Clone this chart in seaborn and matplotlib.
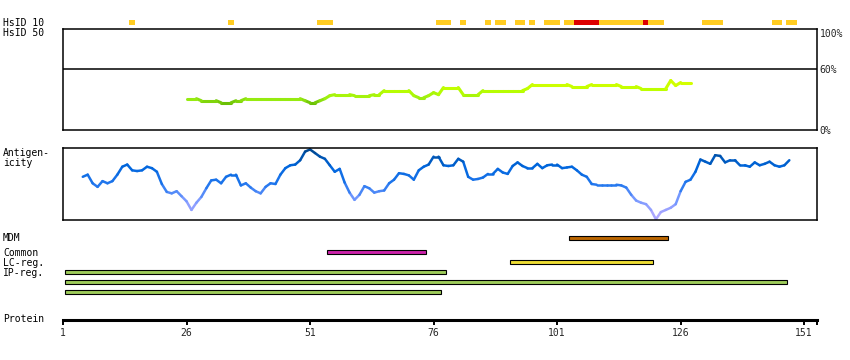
import matplotlib
matplotlib.use("Agg")
import matplotlib.pyplot as plt
from matplotlib.colors import LinearSegmentedColormap
import pandas as pd
import seaborn as sns

sns.set_style("white")
plt.rcParams["font.family"] = ["DejaVu Sans Mono"]

# ---------------- data ----------------
# HsID 10 identity blocks (residue start, end, level)
hs10_start = [15, 35, 53, 77, 82, 87, 89, 93, 96, 99, 103, 105, 110, 119, 120, 131, 145, 148]
hs10_end = [15, 35, 55, 79, 82, 87, 90, 94, 96, 101, 104, 109, 118, 119, 122, 134, 146, 149]
hs10_level = ["mid", "mid", "mid", "mid", "mid", "mid", "mid", "mid", "mid", "mid",
              "mid", "high", "mid", "high", "mid", "mid", "mid", "mid"]

# HsID 50 similarity (%) per residue
hs50_res = list(range(26, 129))
hs50_val = [31, 31, 31, 29, 29, 29, 29, 27, 27, 27, 29, 29,
            31, 31, 31, 31, 31, 31, 31, 31, 31, 31, 31, 31,
            29, 27, 27, 29, 31, 34, 35, 35, 35, 35, 34, 34, 34, 34, 35, 35,
            39, 39, 39, 39, 39, 39, 34, 32, 32, 34, 37, 35,
            42, 42, 42, 42, 35, 35, 35, 35,
            39, 39, 39, 39, 39, 39, 39, 39, 39, 41,
            45, 45, 45, 45, 45, 45, 45, 45, 43, 43, 43, 43,
            45, 45, 45, 45, 45, 45, 43, 43, 43, 43,
            41, 41, 41, 41, 41, 41, 49, 44, 47, 47, 47]

# Antigenicity per residue
ag_res = list(range(5, 149))
ag_val = [0.60, 0.63, 0.51, 0.46, 0.54, 0.51, 0.54, 0.63, 0.74, 0.77,
          0.69, 0.68, 0.69, 0.74, 0.72, 0.67, 0.50, 0.39, 0.37, 0.40,
          0.33, 0.26, 0.14, 0.24, 0.32, 0.44, 0.55, 0.56, 0.51, 0.60,
          0.63, 0.63, 0.48, 0.51, 0.45, 0.40, 0.37, 0.46, 0.51, 0.50,
          0.63, 0.72, 0.76, 0.77, 0.83, 0.95, 0.98, 0.93, 0.88, 0.85,
          0.76, 0.67, 0.71, 0.52, 0.38, 0.28, 0.35, 0.47, 0.44, 0.38,
          0.40, 0.41, 0.51, 0.56, 0.65, 0.64, 0.62, 0.56, 0.69, 0.74,
          0.77, 0.88, 0.88, 0.76, 0.75, 0.76, 0.85, 0.81, 0.60, 0.56,
          0.57, 0.59, 0.64, 0.64, 0.71, 0.66, 0.64, 0.75, 0.80, 0.75,
          0.72, 0.72, 0.78, 0.72, 0.76, 0.77, 0.77, 0.72, 0.73, 0.74,
          0.69, 0.63, 0.60, 0.50, 0.49, 0.49, 0.49, 0.49, 0.49, 0.48,
          0.45, 0.35, 0.27, 0.24, 0.22, 0.14, 0.01, 0.11, 0.14, 0.17,
          0.22, 0.40, 0.53, 0.56, 0.67, 0.84, 0.81, 0.78, 0.90, 0.89,
          0.80, 0.83, 0.83, 0.76, 0.76, 0.74, 0.80, 0.76, 0.78, 0.81,
          0.76, 0.74, 0.76, 0.83]

# feature regions
feat_name = ["MDM", "Common", "LC-reg.", "IP-reg.", "IP-reg.", "IP-reg."]
feat_start = [103, 54, 91, 1, 1, 1]
feat_end = [123, 74, 120, 78, 147, 77]

prot_ticks = [1, 26, 51, 76, 101, 126, 151]
prot_end = 153.6

# ---------------- layout helpers ----------------
W, H = 850, 360
fig = plt.figure(figsize=(W / 100, H / 100), dpi=100)


def px_axes(x0, y0, x1, y1):
    return fig.add_axes([x0 / W, 1 - y1 / H, (x1 - x0) / W, (y1 - y0) / H])


def label(y, s):
    fig.text(3 / W, 1 - y / H, s, ha="left", va="center", fontsize=7, color="black")


def seg_frame(xs, ys):
    rows = []
    for i in range(len(xs) - 1):
        c = (ys[i] + ys[i + 1]) / 2
        rows.append((i, xs[i], ys[i], c))
        rows.append((i, xs[i + 1], ys[i + 1], c))
    return pd.DataFrame(rows, columns=["seg", "x", "y", "c"])


XL = (1, prot_end)

# ---------------- HsID 10 strip ----------------
ax10 = px_axes(63, 20, 817, 25)
lvl_col = {"mid": "#FFCC22", "high": "#DD0000"}
ax10.barh([0.5] * len(hs10_start),
          [e - s + 1.2 for s, e in zip(hs10_start, hs10_end)],
          left=[s - 0.6 for s in hs10_start], height=1.0,
          color=[lvl_col[l] for l in hs10_level], linewidth=0)
ax10.set_xlim(*XL)
ax10.set_ylim(0, 1)
ax10.axis("off")

# ---------------- HsID 50 panel ----------------
ax50 = px_axes(63, 29, 817, 130)
green_cmap = LinearSegmentedColormap.from_list(
    "hs", [(0, "#55AA00"), (0.25, "#99EE11"), (0.6, "#BBFF00"), (1, "#DDFF00")])
sns.lineplot(data=seg_frame(hs50_res, hs50_val), x="x", y="y", hue="c", units="seg",
             estimator=None, sort=False, palette=green_cmap, hue_norm=(25, 50),
             legend=False, linewidth=2.2, solid_capstyle="round", ax=ax50)
ax50.axhline(60, color="black", linewidth=1.1)
ax50.set_xlim(*XL)
ax50.set_ylim(0, 100)
ax50.set_xticks([])
ax50.yaxis.tick_right()
ax50.set_yticks([100, 60, 0])
ax50.set_yticklabels(["100%", "60%", "0%"], fontsize=7)
ax50.get_yticklabels()[0].set_va("top")
ax50.tick_params(axis="y", length=0, pad=2)
ax50.set_xlabel("")
ax50.set_ylabel("")
for sp in ax50.spines.values():
    sp.set_linewidth(1.1)
    sp.set_color("black")

# ---------------- Antigenicity panel ----------------
axag = px_axes(63, 148, 817, 220)
blue_cmap = LinearSegmentedColormap.from_list(
    "ag", [(0, "#BBAAFF"), (0.3, "#7799FF"), (0.5, "#2277EE"), (0.75, "#0066DD"), (1, "#004488")])
sns.lineplot(data=seg_frame(ag_res, ag_val), x="x", y="y", hue="c", units="seg",
             estimator=None, sort=False, palette=blue_cmap, hue_norm=(0, 1),
             legend=False, linewidth=1.8, solid_capstyle="round", ax=axag)
axag.set_xlim(*XL)
axag.set_ylim(0, 1)
axag.set_xticks([])
axag.set_yticks([])
axag.set_xlabel("")
axag.set_ylabel("")
for sp in axag.spines.values():
    sp.set_linewidth(1.1)
    sp.set_color("black")

# ---------------- feature tracks ----------------
axtr = px_axes(63, 230, 817, 300)
row_y = [237.7, 252.3, 262.3, 272.3, 282.3, 292.3]
feat_col = {"MDM": "#BB6600", "Common": "#CC22AA", "LC-reg.": "#EEDD33", "IP-reg.": "#9ECC5A"}
axtr.barh(row_y, [e - s for s, e in zip(feat_start, feat_end)],
          left=[s + 0.5 for s in feat_start], height=4.2,
          color=[feat_col[n] for n in feat_name], edgecolor="black", linewidth=0.8)
axtr.set_xlim(*XL)
axtr.set_ylim(300, 230)
axtr.axis("off")

# ---------------- protein axis ----------------
axp = px_axes(63, 300, 817, 319.5)
axp.set_xlim(*XL)
axp.set_ylim(0, 1)
for side in ["top", "left", "right"]:
    axp.spines[side].set_visible(False)
axp.spines["bottom"].set_linewidth(2.2)
axp.spines["bottom"].set_color("black")
axp.set_yticks([])
axp.set_xticks(prot_ticks)
axp.set_xticklabels([str(t) for t in prot_ticks], fontsize=7)
axp.set_xticks([prot_end], minor=True)
axp.tick_params(axis="x", which="both", direction="out", length=3.3, width=1.4,
                color="black", pad=2.5, bottom=True)
axp.patch.set_alpha(0)

# ---------------- row labels ----------------
label(22.5, "HsID 10")
label(33, "HsID 50")
label(153, "Antigen-")
label(163.5, "icity")
label(238, "MDM")
label(252.5, "Common")
label(262.5, "LC-reg.")
label(272.5, "IP-reg.")
label(319.5, "Protein")

fig.savefig("out.png", dpi=100)
